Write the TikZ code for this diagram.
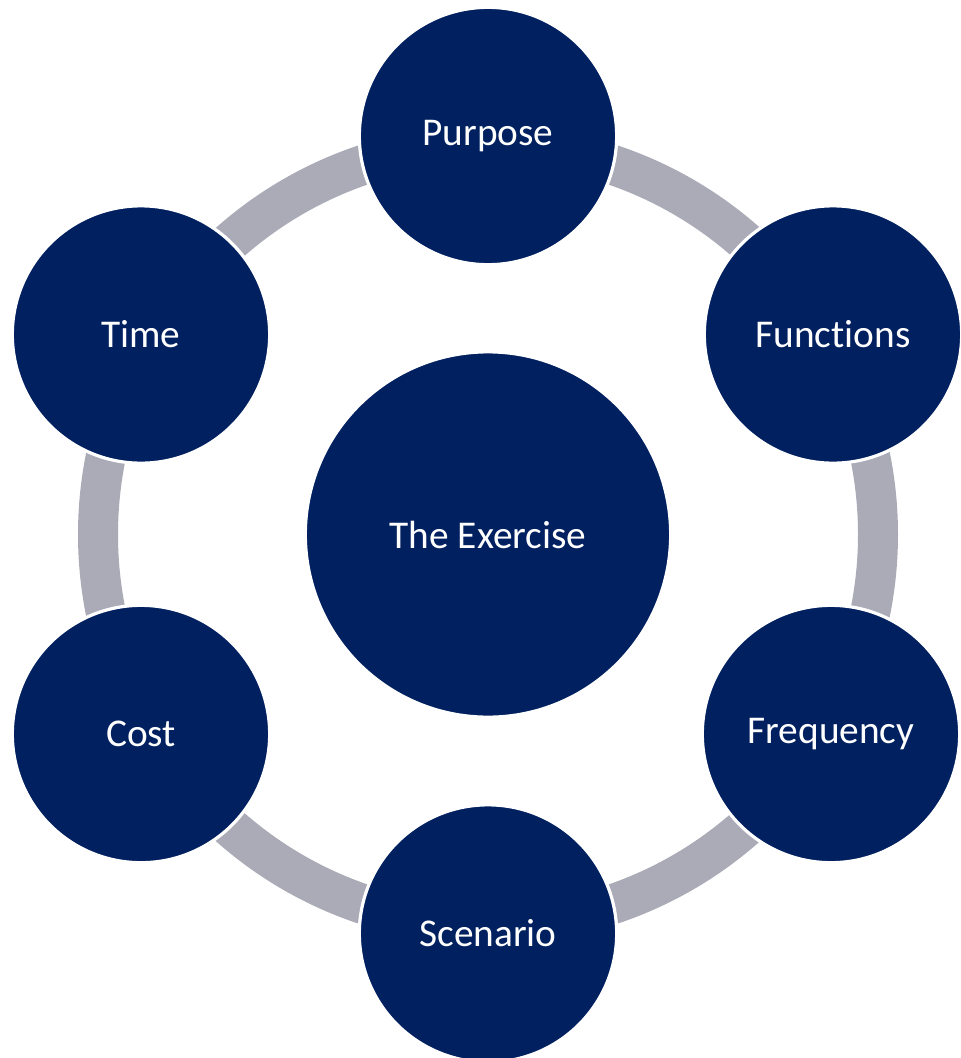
\documentclass[tikz,border=0pt]{standalone}
\usepackage{fontspec}
\setmainfont{Carlito}[Ligatures=NoCommon]
\definecolor{navy}{RGB}{0,32,96}
\definecolor{ringgray}{RGB}{171,171,184}
\tikzset{
  bubble/.style={circle, fill=navy, draw=white, line width=2.4pt, inner sep=0pt,
    minimum size=193pt, text=white, font=\fontsize{29.5}{35}\selectfont},
  hub/.style={bubble, minimum size=274pt},
  ring/.style={draw=ringgray, line width=30pt}
}
\begin{document}
\begin{tikzpicture}[x=0.75pt,y=-0.75pt]
\useasboundingbox (0,0) rectangle (961,1058);
\clip (0,0) rectangle (961,1058);
\node[hub] (hub) at (488,534.5) {The Exercise};
\draw[ring] (hub.center) circle (292.5pt);
\node[bubble] (purpose) at (488,136) {Purpose};
\node[bubble] (functions) at (833,334.5) {Functions};
\node[bubble] (frequency) at (831,734) {Frequency};
\node[bubble] (scenario) at (488,933.5) {Scenario};
\node[bubble] (cost) at (141,734) {Cost};
\node[bubble] (time) at (141,334.5) {Time};
\end{tikzpicture}
\end{document}
